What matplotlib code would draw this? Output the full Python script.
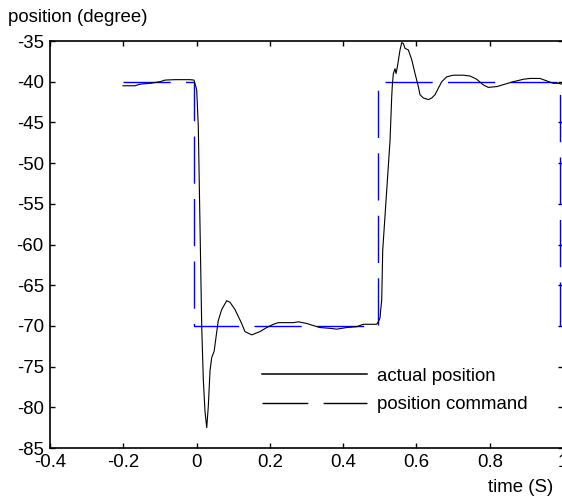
import matplotlib
matplotlib.use("Agg")
import matplotlib.pyplot as plt
from matplotlib.lines import Line2D

plt.rcParams['font.family'] = ['Liberation Sans', 'DejaVu Sans']

# actual position (black)
t_actual = [-0.2008, -0.168, -0.154, -0.127, -0.0998, -0.086, -0.059, -0.018, -0.007,
            0.0004, 0.0047, 0.0094, 0.014, 0.0184, 0.023, 0.0277, 0.032, 0.0367, 0.0413,
            0.048, 0.059, 0.0685, 0.0823, 0.0913, 0.105, 0.123, 0.132, 0.1505, 0.173,
            0.1914, 0.2094, 0.223, 0.264, 0.2777, 0.3006, 0.3142, 0.3369, 0.3642, 0.3825,
            0.4098, 0.437, 0.455, 0.478, 0.4916, 0.496, 0.5007, 0.5026, 0.5053, 0.508,
            0.528, 0.5326, 0.5343, 0.537, 0.5416, 0.5443, 0.5479, 0.5552, 0.5599, 0.5642,
            0.5689, 0.5779, 0.5872, 0.5962, 0.6052, 0.6098, 0.6189, 0.6325, 0.6418, 0.6508,
            0.6598, 0.6691, 0.6827, 0.7007, 0.728, 0.7463, 0.7646, 0.7826, 0.7962, 0.8191,
            0.8418, 0.8645, 0.8918, 0.91, 0.9373, 0.9556, 0.9737, 0.9873, 0.9974]
pos_actual = [-40.5, -40.5, -40.3, -40.2, -40.0, -39.8, -39.75, -39.75, -39.8,
              -41.0, -45.5, -57.8, -70.0, -76.6, -80.5, -82.5, -79.9, -75.5, -73.9,
              -73.1, -69.4, -68.0, -66.9, -67.1, -68.0, -69.7, -70.7, -71.1, -70.7,
              -70.2, -69.8, -69.6, -69.6, -69.5, -69.7, -69.9, -70.2, -70.3, -70.4,
              -70.2, -70.1, -69.8, -69.8, -69.8, -69.5, -69.0, -68.0, -66.8, -60.7,
              -47.2, -41.8, -40.4, -39.0, -38.4, -39.0, -38.2, -36.1, -35.2, -35.3,
              -35.9, -36.1, -37.3, -39.0, -40.6, -41.6, -42.0, -42.2, -42.0, -41.6,
              -40.8, -40.0, -39.4, -39.2, -39.2, -39.3, -39.7, -40.4, -40.7, -40.6,
              -40.3, -40.0, -39.7, -39.6, -39.6, -39.9, -40.2, -40.2, -40.3]

# position command (blue dashed)
t_cmd = [-0.2, -0.008, -0.008, 0.495, 0.495, 0.992, 0.992]
pos_cmd = [-40, -40, -70, -70, -40, -40, -70]

xticks = [-0.4, -0.2, 0, 0.2, 0.4, 0.6, 0.8, 1.0]
xticklabels = ['-0.4', '-0.2', '0', '0.2', '0.4', '0.6', '0.8', '1']
yticks = [-85, -80, -75, -70, -65, -60, -55, -50, -45, -40, -35]

labels = ['actual position', 'position command']

fig = plt.figure(figsize=(5.62, 4.96), dpi=100)
ax = fig.add_axes([50/562, 48/496, 513/562, 407/496])

ax.plot(t_cmd, pos_cmd, color='#0000ff', lw=1.0, dashes=(34, 11))
ax.plot(t_actual, pos_actual, color='black', lw=0.8)

ax.set_xlim(-0.4, 1.0)
ax.set_ylim(-85, -35)
ax.set_xticks(xticks)
ax.set_xticklabels(xticklabels)
ax.set_yticks(yticks)
ax.set_yticklabels([str(v) for v in yticks])
ax.tick_params(direction='in', length=3.6, width=1.0, labelsize=13.4, pad=4.5,
               top=True, right=True, colors='black')
for s in ax.spines.values():
    s.set_linewidth(1.2)

handles = [Line2D([], [], color='black', lw=1.1),
           Line2D([], [], color='black', lw=1.0, dashes=(33, 11))]
ax.legend(handles, labels, loc='center left',
          bbox_to_anchor=(262/562, 1 - 390.5/496), bbox_transform=fig.transFigure,
          frameon=False, borderpad=0, borderaxespad=0, handlelength=5.65,
          handletextpad=0.54, labelspacing=0.62, fontsize=13.4)

fig.text(8/562, 1 - 17/496, 'position (degree)', ha='left', va='center', fontsize=13.4)
fig.text(553/562, 1 - 487/496, 'time (S)', ha='right', va='center', fontsize=13.4)

fig.savefig('out.png', dpi=100)
